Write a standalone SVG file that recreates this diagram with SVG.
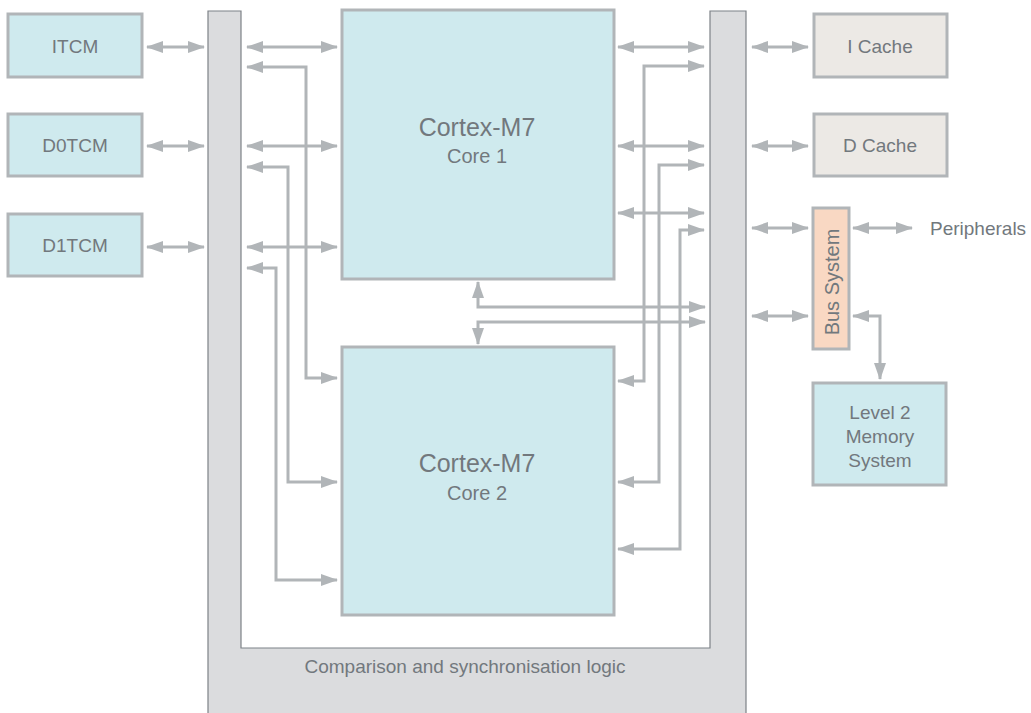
<svg xmlns="http://www.w3.org/2000/svg" width="1031" height="713" viewBox="0 0 1031 713">
<style>
.box{fill:#cfeaee;stroke:#b1b5b8;stroke-width:3}
.cache{fill:#ece9e5;stroke:#b1b5b8;stroke-width:3}
.bus{fill:#f9d8c3;stroke:#b1b5b8;stroke-width:3}
.t{font-family:"Liberation Sans",Arial,sans-serif;font-size:19px;fill:#72787d;text-anchor:middle}
.big{font-size:25px}
.sub{font-size:20px}
.c{fill:none;stroke:#b1b5b8;stroke-width:3;marker-end:url(#ah);marker-start:url(#ah)}
</style>
<defs>
<marker id="ah" markerUnits="userSpaceOnUse" markerWidth="17" markerHeight="12" refX="16" refY="6" orient="auto-start-reverse" viewBox="0 0 17 12">
<path d="M0,0 L17,6 L0,12 Z" fill="#b1b5b8"/>
</marker>
</defs>
<rect width="1031" height="713" fill="#ffffff"/>
<g id="sync-logic">
<path d="M208,11 H241 V648 H710 V11 H746 V716 H208 Z" fill="#dbdcde" stroke="#7d8287" stroke-width="1.2"/>
<text class="t" x="465" y="673">Comparison and synchronisation logic</text>
</g>
<g id="itcm"><rect class="box" x="8" y="14" width="134" height="63"/><text class="t" x="75" y="53">ITCM</text></g>
<g id="d0tcm"><rect class="box" x="8" y="114" width="134" height="62"/><text class="t" x="75" y="152">D0TCM</text></g>
<g id="d1tcm"><rect class="box" x="8" y="214" width="134" height="62"/><text class="t" x="75" y="252">D1TCM</text></g>
<g id="core1"><rect class="box" x="342" y="10" width="272" height="269"/><text class="t big" x="477" y="136">Cortex-M7</text><text class="t sub" x="477" y="163">Core 1</text></g>
<g id="core2"><rect class="box" x="342" y="347" width="272" height="268"/><text class="t big" x="477" y="472">Cortex-M7</text><text class="t sub" x="477" y="500">Core 2</text></g>
<g id="icache"><rect class="cache" x="814" y="14" width="133" height="63"/><text class="t" x="880" y="53">I Cache</text></g>
<g id="dcache"><rect class="cache" x="814" y="114" width="133" height="62"/><text class="t" x="880" y="152">D Cache</text></g>
<g id="bus"><rect class="bus" x="813" y="208" width="36" height="141"/><text class="t sub" transform="translate(839,282) rotate(-90)">Bus System</text></g>
<g id="peripherals"><text class="t" x="930" y="235" style="text-anchor:start">Peripherals</text></g>
<g id="l2"><rect class="box" x="813" y="383" width="133" height="102"/><text class="t" x="880" y="419">Level 2</text><text class="t" x="880" y="443">Memory</text><text class="t" x="880" y="467">System</text></g>
<g id="connectors">
<path class="c" d="M147,47 H204"/>
<path class="c" d="M147,146 H204"/>
<path class="c" d="M147,247 H204"/>
<path class="c" d="M247,47 H337"/>
<path class="c" d="M247,146 H337"/>
<path class="c" d="M247,247 H337"/>
<path class="c" d="M337,378 H306 V67 H247"/>
<path class="c" d="M337,482 H288 V167 H247"/>
<path class="c" d="M337,580 H276 V268 H247"/>
<path class="c" d="M618,47 H704"/>
<path class="c" d="M618,146 H704"/>
<path class="c" d="M618,213 H704"/>
<path class="c" d="M618,381 H644 V66 H704"/>
<path class="c" d="M618,482 H659 V165 H704"/>
<path class="c" d="M618,549 H680 V230 H704"/>
<path class="c" d="M478,282 V307 H705"/>
<path class="c" d="M478,344 V322 H705"/>
<path class="c" d="M752,47 H808"/>
<path class="c" d="M752,146 H808"/>
<path class="c" d="M752,228 H808"/>
<path class="c" d="M752,316 H808"/>
<path class="c" d="M853,228 H912"/>
<path class="c" d="M853,316 H880 V379"/>
</g>
</svg>
